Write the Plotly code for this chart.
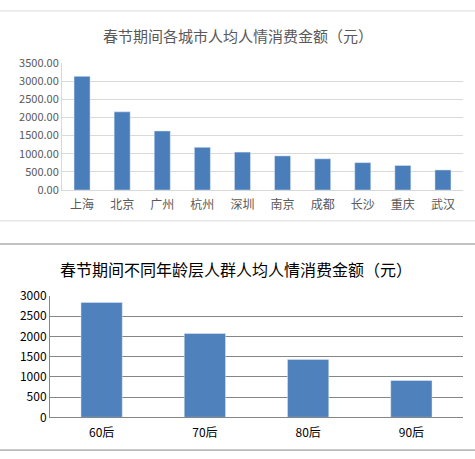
import plotly.graph_objects as go

# city chart
cities = ["上海", "北京", "广州", "杭州", "深圳", "南京", "成都", "长沙", "重庆", "武汉"]
city_values = [3131, 2154, 1627, 1178, 1046, 941, 862, 756, 677, 554]
city_ticks = [0, 500, 1000, 1500, 2000, 2500, 3000, 3500]

# age group chart
ages = ["60后", "70后", "80后", "90后"]
age_values = [2842, 2074, 1433, 910]
age_ticks = [0, 500, 1000, 1500, 2000, 2500, 3000]

W, H = 475, 459
FONT = "Noto Sans CJK SC"


def py(px):
    # pixel row from top -> paper y
    return 1 - px / H


def px_x(px):
    return px / W


fig = go.Figure()
fig.add_trace(go.Bar(x=cities, y=city_values, marker_color="#4A7EBB", width=0.4,
                     xaxis="x", yaxis="y", showlegend=False))
fig.add_trace(go.Bar(x=ages, y=age_values, marker_color="#4F81BD", width=0.4,
                     xaxis="x2", yaxis="y2", showlegend=False))

fig.update_layout(
    width=W, height=H,
    margin=dict(l=0, r=0, t=0, b=0),
    paper_bgcolor="white", plot_bgcolor="white",
    font=dict(family=FONT),
    xaxis=dict(domain=[px_x(62), px_x(463)], anchor="y", showgrid=False,
               showline=True, linecolor="#D9D9D9", linewidth=1, ticks="",
               ticklabelstandoff=4,
               tickfont=dict(size=12, color="#595959")),
    yaxis=dict(domain=[py(187), py(55)], anchor="x", range=[0, 3500],
               tickvals=city_ticks, ticktext=[f"{v:.2f}" for v in city_ticks],
               showgrid=True, gridcolor="#D9D9D9", zeroline=False,
               showline=True, linecolor="#D9D9D9", ticks="",
               tickfont=dict(size=11, color="#595959")),
    xaxis2=dict(domain=[px_x(50), px_x(463)], anchor="y2", showgrid=False,
                showline=True, linecolor="#868686", linewidth=1, ticks="",
                ticklabelstandoff=4,
                tickfont=dict(size=12, color="black")),
    yaxis2=dict(domain=[py(423), py(297)], anchor="x2", range=[0, 3000],
                tickvals=age_ticks, showgrid=True, gridcolor="#868686",
                zeroline=False, showline=True, linecolor="#868686", ticks="",
                tickfont=dict(size=12, color="black")),
    annotations=[
        dict(text="春节期间各城市人均人情消费金额（元）", x=px_x(238), y=py(26),
             xref="paper", yref="paper", showarrow=False,
             xanchor="center", yanchor="middle",
             font=dict(size=15, color="#595959")),
        dict(text="春节期间不同年龄层人群人均人情消费金额（元）", x=px_x(236), y=py(269),
             xref="paper", yref="paper", showarrow=False,
             xanchor="center", yanchor="middle",
             font=dict(size=16, color="black")),
    ],
    shapes=[
        dict(type="line", xref="paper", yref="paper", x0=0, x1=1, y0=py(1), y1=py(1),
             line=dict(color="#D9D9D9", width=1)),
        dict(type="line", xref="paper", yref="paper", x0=0, x1=1, y0=py(219), y1=py(219),
             line=dict(color="#D9D9D9", width=1)),
        dict(type="line", xref="paper", yref="paper", x0=0, x1=1, y0=py(243), y1=py(243),
             line=dict(color="#868686", width=1)),
        dict(type="line", xref="paper", yref="paper", x0=0, x1=1, y0=py(457), y1=py(457),
             line=dict(color="#868686", width=1)),
    ],
)

fig.write_html("out.html", config={"displayModeBar": False},
               post_script="document.body.style.margin='0';")
